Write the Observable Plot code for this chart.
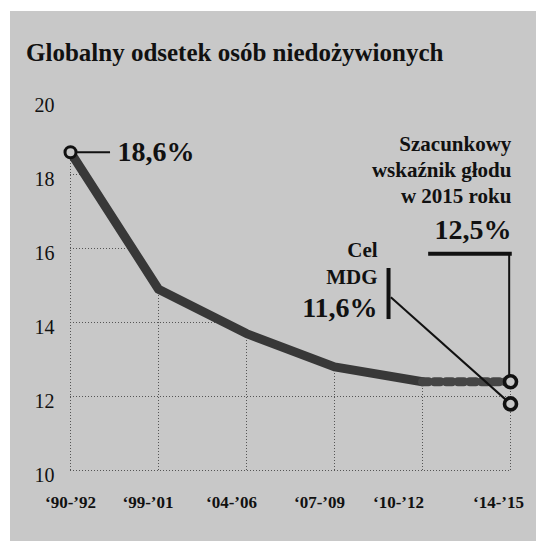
<!DOCTYPE html>
<html>
<head>
<meta charset="utf-8">
<script src="https://cdn.jsdelivr.net/npm/d3@7"></script>
<script src="https://cdn.jsdelivr.net/npm/@observablehq/plot@0.6"></script>
<style>
  html, body { margin: 0; padding: 0; background: #c8c8c8; }
  #wrap { position: relative; width: 536px; height: 541px; overflow: hidden; background: #c8c8c8; }
  .edge-top { position: absolute; left: 0; top: 0; width: 536px; height: 11px; background: #fff; }
  .edge-left { position: absolute; left: 0; top: 0; width: 10px; height: 541px; background: #fff; }
  #title { position: absolute; left: 26px; top: 40px; margin: 0; font: bold 25px/26px "Liberation Serif", "Times New Roman", serif; color: #111; white-space: nowrap; }
  #chart { position: absolute; left: 0; top: 70px; }
</style>
</head>
<body>
<div id="wrap">
  <div class="edge-top"></div>
  <div class="edge-left"></div>
  <h1 id="title">Globalny odsetek osób niedożywionych</h1>
  <div id="chart"></div>
</div>
<script>
// ---- data ----
const periods = ["‘90-’92", "‘99-’01", "‘04-’06", "‘07-’09", "‘10-’12", "‘14-’15"];
const observed = [18.6, 14.9, 13.7, 12.8, 12.4];          // share of undernourished, %
const projected = [12.4, 12.4];                          // '10-'12 -> '14-'15 (dashed)
const estimate2015 = 12.4;                               // estimated hunger rate 2015 (circle)
const mdgTarget = 11.8;                                  // MDG target (circle)
const yTicks = [10, 12, 14, 16, 18, 20];
const gridValues = [10, 12, 14, 16, 18];
const startLabel = "18,6%";
const estimateLines = ["Szacunkowy", "wskaźnik głodu", "w 2015 roku"];
const estimateLabel = "12,5%";
const mdgLines = ["Cel", "MDG"];
const mdgLabel = "11,6%";

// ---- derived tables ----
const obsData = observed.map((v, i) => ({i, v}));
const projStart = periods.length - projected.length;
const projData = projected.map((v, k) => ({i: projStart + k, v}));
const last = periods.length - 1;
const series = [...observed, projected[projected.length - 1]];   // curve value at each period

// grid is only drawn beneath the curve
const vGrid = series.map((v, i) => ({i, top: v}));
const hGrid = gridValues.map(g => {
  let end = last;
  for (let i = 0; i < series.length - 1; i++) {
    if (series[i] >= g && series[i + 1] < g) { end = i + (series[i] - g) / (series[i] - series[i + 1]); break; }
  }
  return {g, end};
});

// ---- layout (not data) ----
const labelShift = [0, -10.5, -15, -15, -24, -12];   // px shift of period labels, as printed
const xUnit = 88;                                     // px per period step (440 / 5)
const callout = {
  leadX1: 0.08, leadX2: 0.455,
  estBarY: 15.86, estBarX1: 4.07, estBarX2: 5.02, estStemX: 4.985,
  estTextX: 5.01, estTextY: 17.22, estValueY: 16.27,
  mdgBarX: 3.614, mdgBarY1: 14.08, mdgBarY2: 15.46,
  mdgLinkX: 3.64, mdgLinkY: 14.68,
  mdgTextX: 3.49, mdgTextY: 15.03, mdgValueY: 14.16
};

const bg = "#c8c8c8";
const ink = "#111";
const serif = "Liberation Serif, Times New Roman, serif";

const chart = Plot.plot({
  width: 536,
  height: 471,
  marginLeft: 70,
  marginRight: 26,
  marginTop: 30,
  marginBottom: 71,
  x: {type: "linear", domain: [0, last], axis: null},
  y: {domain: [10, 20], axis: null},
  style: {background: "transparent", fontFamily: serif, color: ink},
  marks: [
    // dotted grid
    Plot.ruleX(vGrid, {x: "i", y1: 10, y2: "top", stroke: "#555", strokeWidth: 1, strokeDasharray: "1,2"}),
    Plot.ruleY(hGrid, {y: "g", x1: 0, x2: "end", stroke: "#555", strokeWidth: 1, strokeDasharray: "1,2"}),
    // y tick labels
    Plot.text(yTicks, {x: 0, y: d => d, text: d => String(d), textAnchor: "end", dx: -16, dy: 5, fontSize: 20, fill: ink, fontFamily: serif}),
    // x tick labels
    Plot.text(periods, {x: (d, i) => i + labelShift[i] / xUnit, y: 10, text: d => d, dy: 37, lineAnchor: "bottom", fontSize: 17, fontWeight: "bold", fill: ink, fontFamily: serif}),
    // series
    Plot.line(obsData, {x: "i", y: "v", stroke: "#383838", strokeWidth: 9, strokeLinejoin: "round"}),
    Plot.line(projData, {x: "i", y: "v", stroke: "#454545", strokeWidth: 9, strokeDasharray: "6,5.8"}),
    // 18,6% callout
    Plot.ruleY([observed[0]], {y: d => d, x1: callout.leadX1, x2: callout.leadX2, stroke: ink, strokeWidth: 2}),
    Plot.text([observed[0]], {x: 0, y: d => d, text: () => startLabel, textAnchor: "start", dx: 47, dy: 9, lineAnchor: "bottom", fontSize: 28, fontWeight: "bold", fill: ink, fontFamily: serif}),
    // estimate callout
    Plot.ruleY([callout.estBarY], {y: d => d, x1: callout.estBarX1, x2: callout.estBarX2, stroke: ink, strokeWidth: 4}),
    Plot.ruleX([estimate2015], {x: callout.estStemX, y1: d => d, y2: callout.estBarY, stroke: ink, strokeWidth: 2}),
    Plot.text([estimateLines.join("\n")], {x: callout.estTextX, y: callout.estTextY, text: d => d, textAnchor: "end", lineAnchor: "bottom", lineHeight: 1.24, fontSize: 21, fontWeight: "bold", fill: ink, fontFamily: serif}),
    Plot.text([estimateLabel], {x: callout.estTextX, y: callout.estValueY, text: d => d, textAnchor: "end", lineAnchor: "bottom", fontSize: 28, fontWeight: "bold", fill: ink, fontFamily: serif}),
    // MDG callout
    Plot.ruleX([callout.mdgBarX], {x: d => d, y1: callout.mdgBarY1, y2: callout.mdgBarY2, stroke: ink, strokeWidth: 4}),
    Plot.link([mdgTarget], {x1: callout.mdgLinkX, y1: callout.mdgLinkY, x2: last, y2: d => d, stroke: ink, strokeWidth: 2}),
    Plot.text([mdgLines.join("\n")], {x: callout.mdgTextX, y: callout.mdgTextY, text: d => d, textAnchor: "end", lineAnchor: "bottom", lineHeight: 1.29, fontSize: 21, fontWeight: "bold", fill: ink, fontFamily: serif}),
    Plot.text([mdgLabel], {x: callout.mdgTextX, y: callout.mdgValueY, text: d => d, textAnchor: "end", lineAnchor: "bottom", fontSize: 28, fontWeight: "bold", fill: ink, fontFamily: serif}),
    // circles
    Plot.dot([observed[0]], {x: 0, y: d => d, r: 5.5, stroke: ink, strokeWidth: 3, fill: bg}),
    Plot.dot([estimate2015, mdgTarget], {x: last, y: d => d, r: 6, stroke: ink, strokeWidth: 3.6, fill: bg})
  ]
});
document.getElementById("chart").appendChild(chart);
</script>
</body>
</html>
